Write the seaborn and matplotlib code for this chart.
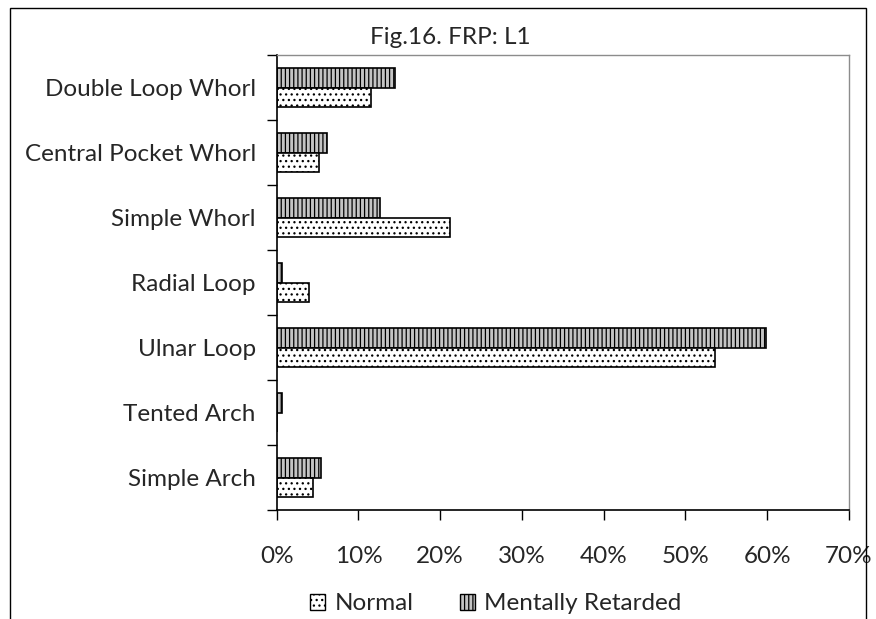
import matplotlib
matplotlib.use("Agg")
import matplotlib.pyplot as plt
import seaborn as sns
import pandas as pd
from matplotlib.patches import Patch, Rectangle
from matplotlib.ticker import PercentFormatter, FixedLocator

categories = ["Double Loop Whorl", "Central Pocket Whorl", "Simple Whorl",
              "Radial Loop", "Ulnar Loop", "Tented Arch", "Simple Arch"]
normal = [11.5, 5.2, 21.2, 3.9, 53.6, 0.0, 4.4]
mentally_retarded = [14.5, 6.1, 12.6, 0.6, 59.9, 0.6, 5.4]
series = ["Mentally Retarded", "Normal"]
x_ticks = [0, 10, 20, 30, 40, 50, 60, 70]
title = "Fig.16. FRP: L1"

df = pd.DataFrame({
    "category": categories * 2,
    "value": mentally_retarded + normal,
    "series": ["Mentally Retarded"] * len(categories) + ["Normal"] * len(categories),
})

sns.set_theme(style="white")
plt.rcParams["font.family"] = ["Lato", "DejaVu Sans"]
plt.rcParams["hatch.linewidth"] = 0.9

FS = 17.5
fig = plt.figure(figsize=(8.76, 6.19), dpi=100)
ax = fig.add_axes([276.7 / 876, 1 - 510 / 619, (849 - 276.7) / 876, (510 - 55) / 619])

sns.barplot(data=df, x="value", y="category", hue="series", hue_order=series,
            order=categories, orient="h", width=0.6, ax=ax, legend=False,
            edgecolor="black", linewidth=1.2)

styles = {"Mentally Retarded": ("#c4c4c4", "||||"), "Normal": ("white", "...")}
for cont, name in zip(ax.containers, series):
    fc, h = styles[name]
    for p in cont:
        p.set_facecolor(fc)
        p.set_hatch(h)
        p.set_edgecolor("black")

ax.set_xlim(0, 70)
ax.set_ylim(6.5, -0.5)
ax.xaxis.set_major_locator(FixedLocator(x_ticks))
ax.xaxis.set_major_formatter(PercentFormatter(decimals=0))
ax.set_xlabel("")
ax.set_ylabel("")
ax.tick_params(axis="x", direction="out", length=7, width=1, color="black",
               labelsize=FS, pad=19, bottom=True)
ax.tick_params(axis="y", which="major", length=0, labelsize=FS, pad=15)
ax.set_yticks([i + 0.5 for i in range(-1, len(categories))], minor=True)
ax.tick_params(axis="y", which="minor", direction="out", length=7, width=1,
               color="black", left=True)
for s in ["left", "bottom"]:
    ax.spines[s].set_color("black")
    ax.spines[s].set_linewidth(1.2)
for s in ["top", "right"]:
    ax.spines[s].set_color("#8c8c8c")
    ax.spines[s].set_linewidth(1)

fig.text(450 / 876, 1 - 38 / 619, title, ha="center", va="center", fontsize=FS)

handles = [Patch(facecolor="white", edgecolor="black", hatch="...", label="Normal"),
           Patch(facecolor="#c4c4c4", edgecolor="black", hatch="||||", label="Mentally Retarded")]
fig.legend(handles=handles, loc="center", bbox_to_anchor=(496 / 876, 1 - 604 / 619),
           ncol=2, frameon=False, fontsize=FS, handlelength=0.6, handleheight=0.6,
           columnspacing=1.9, handletextpad=0.4, borderpad=0)

fig.add_artist(Rectangle((10 / 876, -0.05), (866 - 10) / 876, 1.05 - 8 / 619,
                         transform=fig.transFigure, fill=False, edgecolor="black",
                         linewidth=1))

fig.savefig("out.png", dpi=100)
